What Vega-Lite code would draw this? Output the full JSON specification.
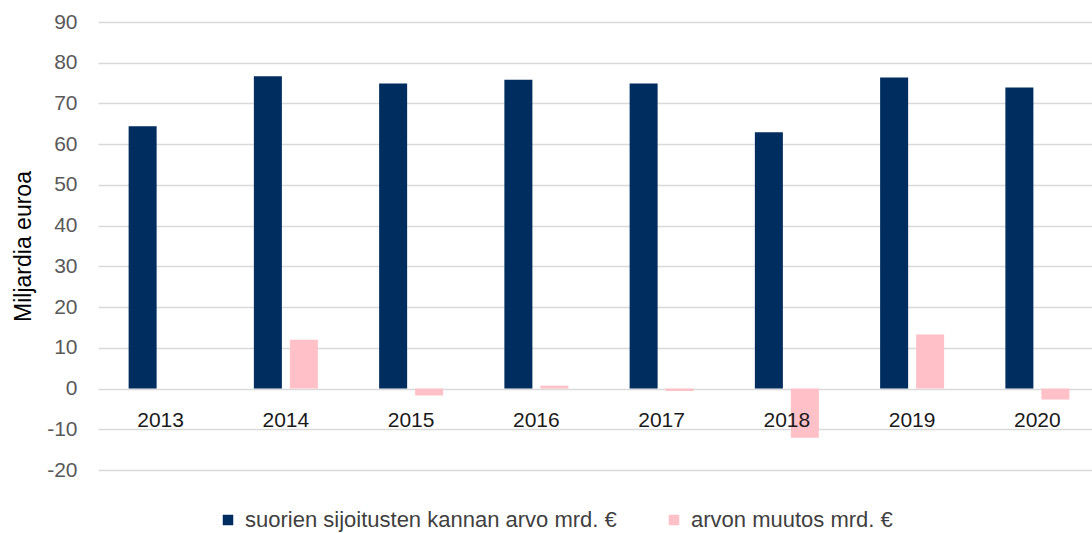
{
  "$schema": "https://vega.github.io/schema/vega-lite/v6.json",
  "autosize": {"type": "none"},
  "padding": {"left": 98, "top": 22, "right": 0, "bottom": 63},
  "width": 1002,
  "height": 448,
  "background": "white",
  "data": {
    "values": [
      {"year": "2013", "series": "suorien sijoitusten kannan arvo mrd. €", "value": 64.4},
      {"year": "2014", "series": "suorien sijoitusten kannan arvo mrd. €", "value": 76.7},
      {"year": "2015", "series": "suorien sijoitusten kannan arvo mrd. €", "value": 74.9},
      {"year": "2016", "series": "suorien sijoitusten kannan arvo mrd. €", "value": 75.8},
      {"year": "2017", "series": "suorien sijoitusten kannan arvo mrd. €", "value": 74.9},
      {"year": "2018", "series": "suorien sijoitusten kannan arvo mrd. €", "value": 62.9},
      {"year": "2019", "series": "suorien sijoitusten kannan arvo mrd. €", "value": 76.4},
      {"year": "2020", "series": "suorien sijoitusten kannan arvo mrd. €", "value": 73.9},
      {"year": "2014", "series": "arvon muutos mrd. €", "value": 12.0},
      {"year": "2015", "series": "arvon muutos mrd. €", "value": -1.7},
      {"year": "2016", "series": "arvon muutos mrd. €", "value": 0.7},
      {"year": "2017", "series": "arvon muutos mrd. €", "value": -0.6},
      {"year": "2018", "series": "arvon muutos mrd. €", "value": -12.1},
      {"year": "2019", "series": "arvon muutos mrd. €", "value": 13.3},
      {"year": "2020", "series": "arvon muutos mrd. €", "value": -2.7}
    ]
  },
  "mark": {"type": "bar"},
  "encoding": {
    "x": {
      "field": "year",
      "type": "nominal",
      "scale": {"paddingInner": 0.489, "paddingOuter": 0.2445},
      "axis": {
        "title": null,
        "labelAngle": 0,
        "domain": false,
        "ticks": false,
        "offset": -81,
        "labelPadding": 20,
        "labelFont": "Liberation Sans",
        "labelFontSize": 21,
        "labelColor": "#1a1a1a",
        "zindex": 1
      }
    },
    "xOffset": {
      "field": "series",
      "type": "nominal",
      "sort": ["suorien sijoitusten kannan arvo mrd. €", "arvon muutos mrd. €"],
      "scale": {"paddingInner": 0.222, "paddingOuter": 0}
    },
    "y": {
      "field": "value",
      "type": "quantitative",
      "scale": {"domain": [-20, 90], "nice": false, "zero": false},
      "axis": {
        "title": "Miljardia euroa",
        "titleFont": "Liberation Sans",
        "titleFontSize": 23,
        "titleFontWeight": "normal",
        "titleColor": "#000000",
        "titlePadding": 11,
        "values": [-20, -10, 0, 10, 20, 30, 40, 50, 60, 70, 80, 90],
        "labelExpr": "replace(datum.label, '\u2212', '-')",
        "domain": false,
        "ticks": false,
        "grid": true,
        "gridColor": "#d9d9d9",
        "gridWidth": 1.5,
        "labelPadding": 21,
        "labelFont": "Liberation Sans",
        "labelFontSize": 21,
        "labelColor": "#595959"
      }
    },
    "color": {
      "field": "series",
      "type": "nominal",
      "scale": {
        "domain": ["suorien sijoitusten kannan arvo mrd. €", "arvon muutos mrd. €"],
        "range": ["#002D5F", "#FFC0C7"]
      },
      "legend": {
        "title": null,
        "orient": "none",
        "direction": "horizontal",
        "legendX": 119,
        "legendY": 487,
        "symbolType": "square",
        "symbolSize": 110,
        "symbolStrokeWidth": 0,
        "labelFont": "Liberation Sans",
        "labelFontSize": 22,
        "labelColor": "#404040",
        "labelOffset": 6,
        "columnPadding": 46,
        "labelLimit": 500
      }
    }
  },
  "config": {"view": {"stroke": null}}
}
